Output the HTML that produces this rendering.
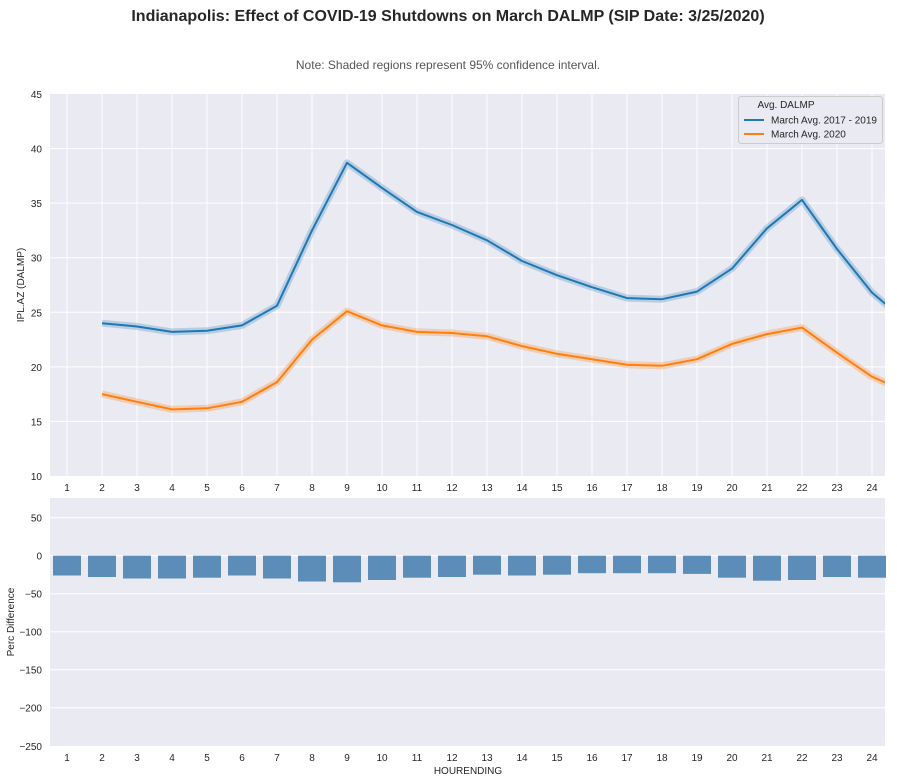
<!DOCTYPE html>
<html><head><meta charset="utf-8"><style>
body{margin:0;background:#fff;}
svg{display:block;font-family:"Liberation Sans",Arial,sans-serif;}
</style></head><body>
<svg width="897" height="782" viewBox="0 0 897 782">
<defs><clipPath id="c1"><rect x="50" y="94" width="835" height="382"/></clipPath></defs>
<text x="448" y="21" text-anchor="middle" font-size="16" font-weight="bold" fill="#262626">Indianapolis: Effect of COVID-19 Shutdowns on March DALMP (SIP Date: 3/25/2020)</text>
<text x="448" y="69" text-anchor="middle" font-size="12" fill="#555">Note: Shaded regions represent 95% confidence interval.</text>
<rect x="50" y="94" width="835" height="382" fill="#eaeaf2"/>
<g stroke="#fff" stroke-width="1">
<line x1="50" x2="885" y1="148.6" y2="148.6"/><line x1="50" x2="885" y1="203.1" y2="203.1"/><line x1="50" x2="885" y1="257.7" y2="257.7"/><line x1="50" x2="885" y1="312.3" y2="312.3"/><line x1="50" x2="885" y1="366.9" y2="366.9"/><line x1="50" x2="885" y1="421.4" y2="421.4"/>
<path d="M67 94V476M102 94V476M137 94V476M172 94V476M207 94V476M242 94V476M277 94V476M312 94V476M347 94V476M382 94V476M417 94V476M452 94V476M487 94V476M522 94V476M557 94V476M592 94V476M627 94V476M662 94V476M697 94V476M732 94V476M767 94V476M802 94V476M837 94V476M872 94V476"/>
</g>
<g clip-path="url(#c1)" fill="none" stroke-linejoin="round">
<polyline stroke="#1f77b4" stroke-opacity="0.25" stroke-width="7" points="102,323.2 137,326.5 172,331.9 207,330.8 242,325.4 277,305.7 312,230.4 347,162.8 382,187.9 417,211.9 452,225 487,240.3 522,261 557,275.2 592,287.2 627,298.1 662,299.2 697,291.6 732,268.6 767,228.3 802,199.9 837,249 872,292.6 907,322.1"/>
<polyline stroke="#1f77b4" stroke-width="2" points="102,323.2 137,326.5 172,331.9 207,330.8 242,325.4 277,305.7 312,230.4 347,162.8 382,187.9 417,211.9 452,225 487,240.3 522,261 557,275.2 592,287.2 627,298.1 662,299.2 697,291.6 732,268.6 767,228.3 802,199.9 837,249 872,292.6 907,322.1"/>
<polyline stroke="#ff7f0e" stroke-opacity="0.28" stroke-width="7" points="102,394.1 137,401.8 172,409.4 207,408.3 242,401.8 277,382.1 312,339.6 347,311.2 382,325.4 417,331.9 452,333 487,336.3 522,346.1 557,353.8 592,359.2 627,364.7 662,365.8 697,359.2 732,343.9 767,334.1 802,327.6 837,352.7 872,376.7 907,392"/>
<polyline stroke="#ff7f0e" stroke-width="2" points="102,394.1 137,401.8 172,409.4 207,408.3 242,401.8 277,382.1 312,339.6 347,311.2 382,325.4 417,331.9 452,333 487,336.3 522,346.1 557,353.8 592,359.2 627,364.7 662,365.8 697,359.2 732,343.9 767,334.1 802,327.6 837,352.7 872,376.7 907,392"/>
</g>
<g font-size="10" fill="#262626" text-anchor="end">
<text x="42" y="98">45</text><text x="42" y="152.6">40</text><text x="42" y="207.1">35</text><text x="42" y="261.7">30</text><text x="42" y="316.3">25</text><text x="42" y="370.9">20</text><text x="42" y="425.4">15</text><text x="42" y="480">10</text>
</g>
<text transform="translate(24,285) rotate(-90)" text-anchor="middle" font-size="10" fill="#262626">IPL.AZ (DALMP)</text>
<g font-size="10" fill="#262626" text-anchor="middle">
<text x="67" y="491">1</text><text x="102" y="491">2</text><text x="137" y="491">3</text><text x="172" y="491">4</text><text x="207" y="491">5</text><text x="242" y="491">6</text><text x="277" y="491">7</text><text x="312" y="491">8</text><text x="347" y="491">9</text><text x="382" y="491">10</text><text x="417" y="491">11</text><text x="452" y="491">12</text><text x="487" y="491">13</text><text x="522" y="491">14</text><text x="557" y="491">15</text><text x="592" y="491">16</text><text x="627" y="491">17</text><text x="662" y="491">18</text><text x="697" y="491">19</text><text x="732" y="491">20</text><text x="767" y="491">21</text><text x="802" y="491">22</text><text x="837" y="491">23</text><text x="872" y="491">24</text>
</g>
<rect x="738.5" y="96.5" width="144" height="47" rx="3" fill="#eaeaf2" stroke="#ccc"/>
<text x="786" y="108" font-size="10" fill="#262626" text-anchor="middle">Avg. DALMP</text>
<line x1="744" x2="764" y1="120" y2="120" stroke="#1f77b4" stroke-width="2"/>
<text x="771" y="123.5" font-size="10" fill="#262626">March Avg. 2017 - 2019</text>
<line x1="744" x2="764" y1="134" y2="134" stroke="#ff7f0e" stroke-width="2"/>
<text x="771" y="137.5" font-size="10" fill="#262626">March Avg. 2020</text>

<rect x="50" y="498" width="835" height="248" fill="#eaeaf2"/>
<g stroke="#fff" stroke-width="1">
<line x1="50" x2="885" y1="517.7" y2="517.7"/><line x1="50" x2="885" y1="555.7" y2="555.7"/><line x1="50" x2="885" y1="593.7" y2="593.7"/><line x1="50" x2="885" y1="631.7" y2="631.7"/><line x1="50" x2="885" y1="669.7" y2="669.7"/><line x1="50" x2="885" y1="707.7" y2="707.7"/>
</g>
<g fill="#5b8db8">
<rect x="53" y="555.7" width="28" height="19.8"/><rect x="88" y="555.7" width="28" height="21.3"/><rect x="123" y="555.7" width="28" height="22.8"/><rect x="158" y="555.7" width="28" height="22.8"/><rect x="193" y="555.7" width="28" height="22"/><rect x="228" y="555.7" width="28" height="19.8"/><rect x="263" y="555.7" width="28" height="22.8"/><rect x="298" y="555.7" width="28" height="25.8"/><rect x="333" y="555.7" width="28" height="26.6"/><rect x="368" y="555.7" width="28" height="24.3"/><rect x="403" y="555.7" width="28" height="22"/><rect x="438" y="555.7" width="28" height="21.3"/><rect x="473" y="555.7" width="28" height="19"/><rect x="508" y="555.7" width="28" height="19.8"/><rect x="543" y="555.7" width="28" height="19"/><rect x="578" y="555.7" width="28" height="17.5"/><rect x="613" y="555.7" width="28" height="17.5"/><rect x="648" y="555.7" width="28" height="17.5"/><rect x="683" y="555.7" width="28" height="18.2"/><rect x="718" y="555.7" width="28" height="22"/><rect x="753" y="555.7" width="28" height="25"/><rect x="788" y="555.7" width="28" height="24.3"/><rect x="823" y="555.7" width="28" height="21.3"/><rect x="858" y="555.7" width="28" height="22"/>
</g>
<g font-size="10" fill="#262626" text-anchor="end">
<text x="42" y="521.7">50</text><text x="42" y="559.7">0</text><text x="42" y="597.7">−50</text><text x="42" y="635.7">−100</text><text x="42" y="673.7">−150</text><text x="42" y="711.7">−200</text><text x="42" y="750">−250</text>
</g>
<text transform="translate(14,622) rotate(-90)" text-anchor="middle" font-size="10" fill="#262626">Perc Difference</text>
<g font-size="10" fill="#262626" text-anchor="middle">
<text x="67" y="761">1</text><text x="102" y="761">2</text><text x="137" y="761">3</text><text x="172" y="761">4</text><text x="207" y="761">5</text><text x="242" y="761">6</text><text x="277" y="761">7</text><text x="312" y="761">8</text><text x="347" y="761">9</text><text x="382" y="761">10</text><text x="417" y="761">11</text><text x="452" y="761">12</text><text x="487" y="761">13</text><text x="522" y="761">14</text><text x="557" y="761">15</text><text x="592" y="761">16</text><text x="627" y="761">17</text><text x="662" y="761">18</text><text x="697" y="761">19</text><text x="732" y="761">20</text><text x="767" y="761">21</text><text x="802" y="761">22</text><text x="837" y="761">23</text><text x="872" y="761">24</text>
</g>
<text x="468" y="774" font-size="10" fill="#262626" text-anchor="middle">HOURENDING</text>
</svg>
</body></html>
